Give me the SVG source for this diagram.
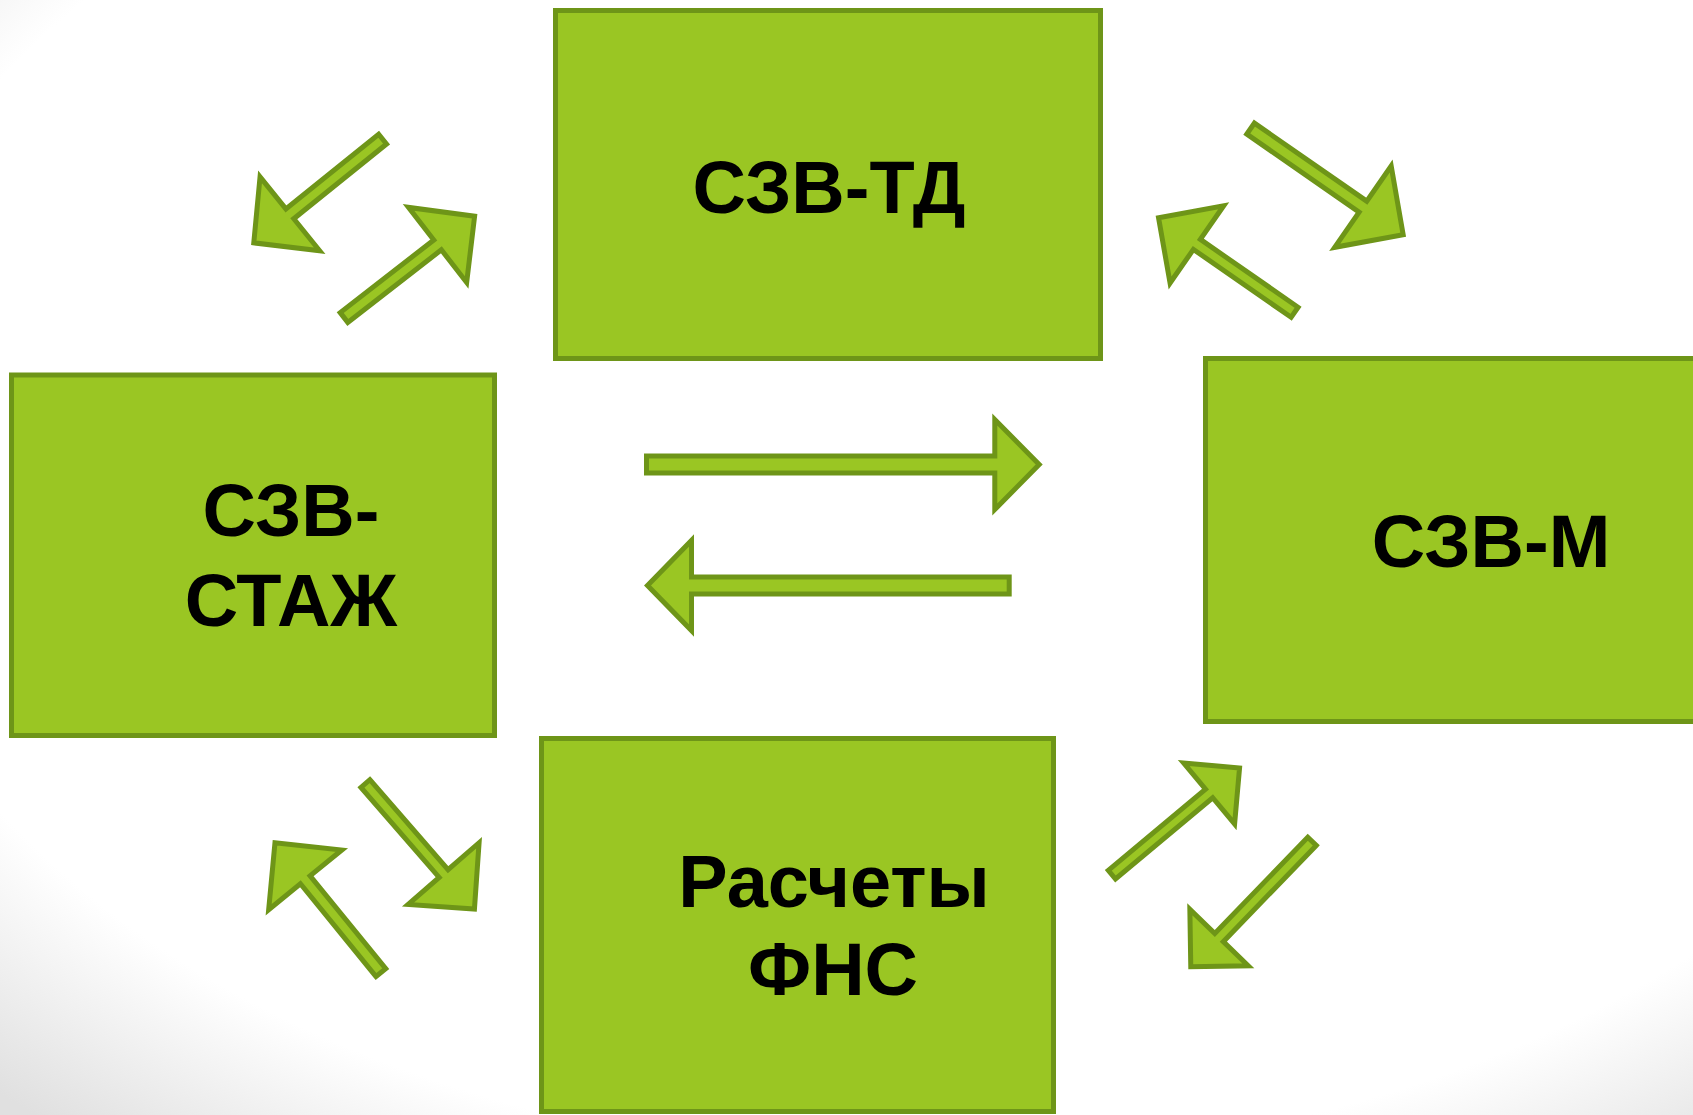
<svg xmlns="http://www.w3.org/2000/svg" width="1693" height="1115" viewBox="0 0 1693 1115">
<defs>
<radialGradient id="bg" cx="0.55" cy="0.4" r="0.8">
<stop offset="0.8" stop-color="#ffffff"/>
<stop offset="1" stop-color="#e0e0e0"/>
</radialGradient>
<style>
.box{fill:#9AC623;stroke:#6E9518;stroke-width:5}
.arr{fill:#9AC623;stroke:#6E9518;stroke-width:5;stroke-linejoin:miter;stroke-miterlimit:10}
.lbl{font-family:"Liberation Sans",Arial,sans-serif;font-weight:bold;font-size:74px;fill:#000;text-anchor:middle}
</style>
</defs>
<rect x="0" y="0" width="1693" height="1115" fill="url(#bg)"/>
<g id="node-szv-td">
<rect class="box" x="555.5" y="10.5" width="545" height="348"/>
<text class="lbl" x="829" y="213">СЗВ-ТД</text>
</g>
<g id="node-szv-stazh">
<rect class="box" x="11.5" y="375" width="483" height="360.5"/>
<text class="lbl" x="291" y="535.5">СЗВ-</text>
<text class="lbl" x="291" y="626">СТАЖ</text>
</g>
<g id="node-szv-m">
<rect class="box" x="1205.5" y="358.5" width="600" height="363"/>
<text class="lbl" x="1491" y="567">СЗВ-М</text>
</g>
<g id="node-fns">
<rect class="box" x="541.5" y="738.5" width="512" height="373"/>
<text class="lbl" x="834" y="907">Расчеты</text>
<text class="lbl" x="833" y="995">ФНС</text>
</g>
<g id="connectors">
<polygon class="arr" points="646.5,456 994.8,456 994.8,419.5 1039.2,464.5 994.8,509.5 994.8,473 646.5,473"/>
<polygon class="arr" points="1009.2,577 691.5,577 691.5,540.5 647.5,585.5 691.5,630.5 691.5,594 1009.2,594"/>
<polygon class="arr" transform="translate(382.6,139.1) rotate(141.15)" points="0,-6.3 119.1,-6.3 119.1,-47.5 165.4,0 119.1,47.5 119.1,6.3 0,6.3"/>
<polygon class="arr" transform="translate(344,317.5) rotate(-37.8)" points="0,-6.2 118.4,-6.2 118.4,-47.5 165.3,0 118.4,47.5 118.4,6.2 0,6.2"/>
<polygon class="arr" transform="translate(1250.6,128.6) rotate(34.8)" points="0,-6.7 136.8,-6.7 136.8,-49.5 185.8,0 136.8,49.5 136.8,6.7 0,6.7"/>
<polygon class="arr" transform="translate(1294.6,312.3) rotate(-145.2)" points="0,-6.1 119,-6.1 119,-47 165.7,0 119,47 119,6.1 0,6.1"/>
<polygon class="arr" transform="translate(365.4,783.6) rotate(49)" points="0,-5.9 119.2,-5.9 119.2,-47 166.2,0 119.2,47 119.2,5.9 0,5.9"/>
<polygon class="arr" transform="translate(380.9,972.6) rotate(-129.2)" points="0,-6.25 119.7,-6.25 119.7,-47.2 167.6,0 119.7,47.2 119.7,6.25 0,6.25"/>
<polygon class="arr" transform="translate(1111.9,874.7) rotate(-39.9)" points="0,-5.6 126.7,-5.6 126.7,-39.75 166.4,0 126.7,39.75 126.7,5.6 0,5.6"/>
<polygon class="arr" transform="translate(1312,841.3) rotate(134)" points="0,-5.9 133.8,-5.9 133.8,-40.6 174.5,0 133.8,40.6 133.8,5.9 0,5.9"/>
</g>
</svg>
